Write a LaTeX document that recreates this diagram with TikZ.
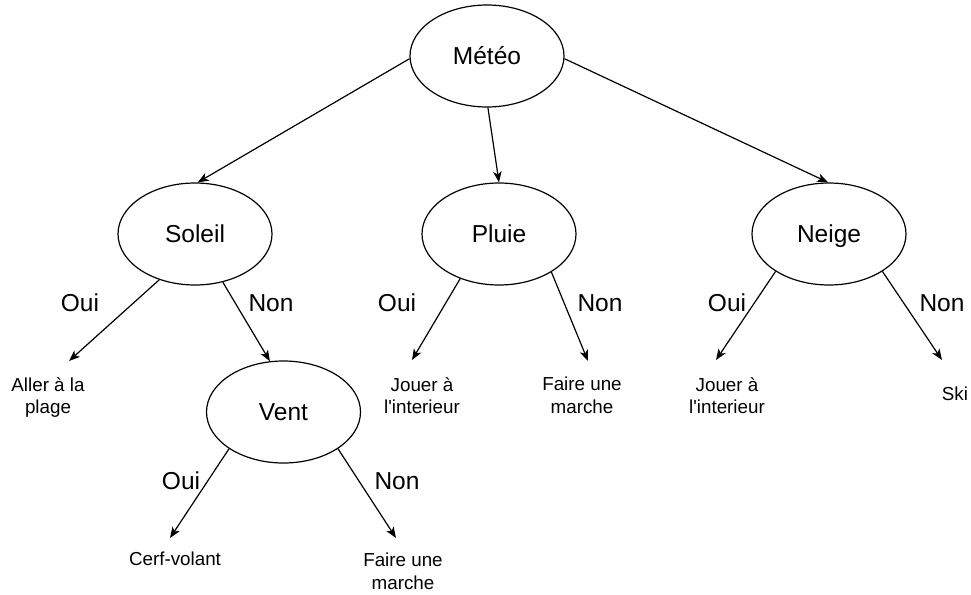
\documentclass[tikz,border=0pt]{standalone}
\usepackage{fontspec}
\setmainfont{Liberation Sans}
\usetikzlibrary{shapes.geometric,arrows.meta}
\tikzset{
  choice/.style={ellipse, draw, line width=1.2pt, minimum width=154pt, minimum height=102pt,
    inner sep=0pt, font=\fontsize{24.5}{29}\selectfont, text height=17.6pt, text depth=0pt},
  answer/.style={font=\fontsize{24.5}{29}\selectfont, inner sep=0pt, text height=17.6pt, text depth=0pt},
  leaf/.style={font=\fontsize{18.8}{22.8}\selectfont, align=center, inner sep=0pt},
  link/.style={line width=1.2pt, -{Stealth[length=11pt,width=8.5pt,inset=3pt]}},
}
\begin{document}
\begin{tikzpicture}[x=1pt,y=-1pt]
  \useasboundingbox[fill=white] (0,0) rectangle (971,594);

  % decision nodes
  \node[choice] (meteo)  at (487,56)    {Météo};
  \node[choice] (soleil) at (195,234)   {Soleil};
  \node[choice] (pluie)  at (499,234)   {Pluie};
  \node[choice] (neige)  at (829,234)   {Neige};
  \node[choice] (vent)   at (283.5,412) {Vent};

  % outcomes
  \node[leaf, anchor=north] (plage)    at (48,377)  {Aller à la\\plage};
  \node[leaf, anchor=north] (jouerP)   at (422,377) {Jouer à\\l\textquotesingle interieur};
  \node[leaf, anchor=north] (marcheP)  at (582,377) {Faire une\\marche};
  \node[leaf, anchor=north] (jouerN)   at (727,377) {Jouer à\\l\textquotesingle interieur};
  \node[leaf] (ski)                    at (955,394) {Ski};
  \node[leaf] (cerf)                   at (175,559) {Cerf-volant};
  \node[leaf, anchor=north] (marcheV)  at (403,553) {Faire une\\marche};

  % arrow tips above the outcomes
  \coordinate (tPlage)   at (69,361);
  \coordinate (tJouerP)  at (412,360);
  \coordinate (tMarcheP) at (588,361);
  \coordinate (tJouerN)  at (716,360);
  \coordinate (tSki)     at (942,360);
  \coordinate (tCerf)    at (170,538);
  \coordinate (tMarcheV) at (396,538);

  % edges from the root
  \draw[link] (meteo.182) -- (soleil.87);
  \draw[link] (meteo.271) -- (pluie.north);
  \draw[link] (meteo.358) -- (neige.91);

  % Soleil
  \draw[link] (soleil.232) -- (tPlage);
  \draw[link] (soleil.300) -- (vent.105);
  \node[answer] (s-oui) at (80,303)  {Oui};
  \node[answer] (s-non) at (271,303) {Non};

  % Pluie
  \draw[link] (pluie.229) -- (tJouerP);
  \draw[link] (pluie.324) -- (tMarcheP);
  \node[answer] (p-oui) at (397,303) {Oui};
  \node[answer] (p-non) at (600,303) {Non};

  % Neige
  \draw[link] (neige.215) -- (tJouerN);
  \draw[link] (neige.325) -- (tSki);
  \node[answer] (n-oui) at (727,303) {Oui};
  \node[answer] (n-non) at (942,303) {Non};

  % Vent
  \draw[link] (vent.214) -- (tCerf);
  \draw[link] (vent.326) -- (tMarcheV);
  \node[answer] (v-oui) at (181,481) {Oui};
  \node[answer] (v-non) at (397,481) {Non};
\end{tikzpicture}
\end{document}
